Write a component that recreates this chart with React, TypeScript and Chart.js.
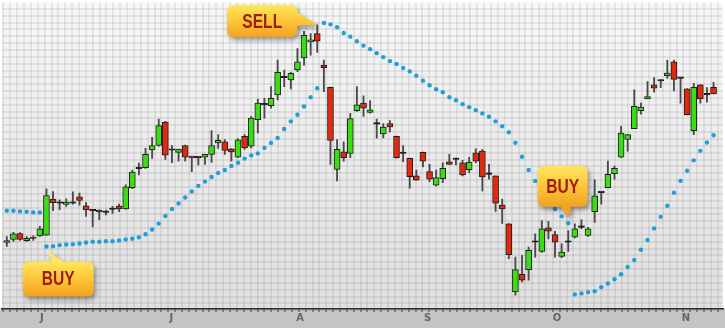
import React, { useEffect, useRef } from 'react';
import { Chart, registerables } from 'chart.js';

Chart.register(...registerables);

// ---- Data (price units, one entry per trading day) ----
const openP = [
  26.60, 26.90, 27.50, 26.77, 27.05, 27.27, 27.33, 30.97, 30.57, 30.43,
  30.57, 31.20, 30.30, 29.80, 29.87, 29.64, 29.94, 30.27, 29.97, 32.13,
  34.06, 34.13, 35.93, 36.37, 38.73, 35.91, 35.67, 36.37, 35.30, 35.14,
  35.20, 35.47, 36.63, 36.73, 36.03, 35.20, 37.30, 36.30, 38.97, 40.48,
  40.37, 41.47, 43.21, 42.97, 43.97, 45.20, 46.80, 47.63, 44.47, 42.23,
  33.97, 35.73, 35.57, 39.87, 40.63, 39.70, 38.54, 37.53, 38.57, 37.30,
  35.58, 35.07, 33.30, 35.67, 33.73, 32.37, 33.03, 34.73, 34.98, 34.63,
  33.93, 35.63, 35.80, 33.48, 33.30, 30.37, 28.47, 21.63, 23.40, 23.87,
  26.64, 25.70, 28.07, 27.40, 25.20, 26.64, 27.13, 28.14, 27.30, 29.70,
  31.64, 32.13, 33.53, 35.20, 36.97, 38.07, 39.87, 41.07, 42.47, 42.88,
  43.40, 44.80, 43.14, 42.07, 37.87, 42.47, 41.48, 42.23,
];
const highP = [
  27.20, 27.63, 27.60, 27.20, 27.27, 28.23, 32.00, 31.73, 30.90, 31.00,
  31.70, 31.57, 30.63, 29.85, 29.90, 29.87, 30.23, 30.47, 32.40, 33.90,
  34.60, 36.07, 37.20, 39.03, 38.80, 36.37, 36.00, 36.40, 35.30, 35.15,
  35.47, 37.87, 37.47, 36.97, 36.05, 37.07, 37.47, 39.30, 41.03, 41.13,
  42.30, 44.97, 43.97, 43.73, 46.13, 47.87, 47.63, 48.53, 44.97, 42.25,
  36.97, 36.73, 39.60, 42.30, 41.37, 40.90, 39.03, 38.57, 38.87, 37.32,
  36.37, 35.10, 33.90, 35.70, 34.47, 33.90, 34.63, 35.47, 35.13, 34.87,
  35.17, 36.03, 35.97, 34.47, 33.32, 30.97, 28.50, 25.13, 25.30, 26.13,
  27.47, 28.80, 28.73, 27.73, 26.47, 27.80, 28.47, 28.87, 28.13, 32.90,
  31.65, 34.80, 34.30, 38.30, 37.50, 41.97, 40.63, 42.80, 43.20, 42.97,
  44.97, 44.97, 43.15, 42.10, 42.63, 42.50, 42.20, 42.73,
];
const lowP = [
  26.20, 26.70, 26.80, 26.70, 26.80, 27.20, 27.30, 29.80, 29.90, 30.23,
  30.47, 30.37, 29.23, 28.20, 28.90, 29.37, 29.53, 29.70, 29.95, 32.03,
  33.40, 34.07, 35.07, 36.30, 34.97, 34.63, 34.80, 34.80, 33.73, 34.40,
  34.47, 34.67, 36.07, 35.47, 34.80, 35.13, 35.97, 36.13, 37.63, 39.13,
  40.13, 40.97, 42.30, 42.07, 43.80, 44.47, 45.47, 45.73, 41.80, 34.47,
  32.80, 34.80, 35.13, 39.80, 39.30, 39.63, 37.10, 37.13, 37.73, 35.10,
  34.73, 32.07, 32.85, 34.20, 32.73, 32.30, 32.63, 34.45, 34.40, 33.30,
  33.63, 34.63, 31.80, 32.97, 29.73, 28.53, 24.97, 21.30, 22.63, 22.80,
  25.13, 25.60, 26.97, 25.13, 25.07, 25.70, 27.07, 28.00, 27.20, 28.63,
  30.47, 32.10, 32.97, 35.13, 35.80, 38.05, 39.53, 41.05, 41.73, 42.20,
  43.13, 41.87, 40.63, 39.45, 37.47, 40.63, 40.73, 41.55,
];
const closeP = [
  26.80, 27.47, 26.90, 27.03, 27.00, 27.97, 31.33, 30.60, 30.55, 30.67,
  30.55, 30.83, 29.87, 29.78, 29.67, 29.62, 29.92, 29.97, 32.20, 33.70,
  34.04, 35.47, 36.37, 38.37, 35.40, 35.89, 36.00, 35.20, 35.13, 35.12,
  35.47, 36.37, 36.90, 35.87, 35.73, 36.93, 36.13, 39.13, 40.63, 40.46,
  41.13, 43.73, 43.19, 43.63, 44.80, 47.47, 47.00, 46.87, 44.20, 36.87,
  35.97, 35.13, 39.07, 40.47, 40.13, 39.97, 38.52, 38.23, 38.23, 35.13,
  35.56, 33.23, 32.87, 34.80, 32.97, 33.13, 34.07, 34.47, 34.96, 33.40,
  34.70, 34.80, 33.20, 33.46, 30.57, 29.97, 25.37, 23.87, 22.80, 25.80,
  26.62, 27.97, 27.73, 26.63, 25.63, 26.62, 27.97, 28.12, 27.97, 31.30,
  31.62, 33.47, 34.07, 37.63, 37.47, 40.30, 40.23, 41.30, 42.13, 42.86,
  43.67, 43.03, 43.12, 39.47, 42.23, 41.07, 41.46, 41.57,
];
// Parabolic SAR
const sarP = [
  29.80, 29.80, 29.73, 29.70, 29.63, 29.63, 26.20, 26.23, 26.33, 26.40,
  26.43, 26.50, 26.60, 26.67, 26.67, 26.73, 26.73, 26.80, 26.90, 26.97,
  27.13, 27.43, 27.90, 28.50, 29.27, 29.97, 30.53, 31.13, 31.73, 32.30,
  32.73, 33.20, 33.60, 33.90, 34.30, 34.63, 35.05, 35.37, 35.57, 36.13,
  36.63, 37.13, 38.03, 38.80, 39.47, 40.30, 41.23, 42.13, 48.70, 48.57,
  48.27, 47.70, 47.33, 46.87, 46.43, 46.07, 45.67, 45.27, 44.87, 44.57,
  44.17, 43.83, 43.40, 42.90, 42.43, 42.03, 41.73, 41.23, 40.93, 40.53,
  40.23, 39.93, 39.60, 39.27, 38.80, 38.30, 37.70, 36.65, 35.23, 33.90,
  32.80, 31.80, 30.90, 29.97, 29.23, 28.53, 21.37, 21.47, 21.60, 21.70,
  22.10, 22.47, 22.90, 23.40, 24.13, 24.83, 25.87, 26.85, 28.02, 29.18,
  30.30, 31.62, 32.80, 33.82, 34.87, 35.83, 36.67, 37.40,
];
const monthLabels = ['J', 'J', 'A', 'S', 'O', 'N'];
const monthTickIndex = [5.3, 24.9, 44.4, 63.7, 83.3, 102.8];

const signalLabels = ['BUY', 'SELL', 'BUY'];
const signalIndex = [6.3, 46.95, 85.07];
const signalPrice = [25.73, 48.53, 29.13];

// callout box geometry relative to the pointer tip (pixels)
const calloutShapes = [
  { bx: -25.7, by: 10.3, bw: 71, bh: 35, p1: [3.3, 12], p2: [16.3, 12] },
  { bx: -89.7, by: -19.7, bw: 70, bh: 32, p1: [-22, -13.7], p2: [-22, 1.3] },
  { bx: -31, by: -51.7, bw: 50, bh: 41, p1: [-10, -13], p2: [3, -13] },
];

const GREEN = '#3cdc14';
const RED = '#e4280e';
const DOJI = '#111111';

const isDoji = (i: number) => Math.abs(closeP[i] - openP[i]) < 0.04;

const bgPlugin = {
  id: 'bgPlugin',
  beforeDraw(chart: any) {
    const { ctx, chartArea: a, width, height } = chart;
    ctx.save();
    const g = ctx.createLinearGradient(0, a.top, 0, a.bottom);
    g.addColorStop(0, '#f7f7f7');
    g.addColorStop(1, '#e0e0e0');
    ctx.fillStyle = g;
    ctx.fillRect(a.left, a.top, a.right - a.left, a.bottom - a.top);
    ctx.fillStyle = '#c4c4c4';
    ctx.fillRect(0, a.bottom, width, height - a.bottom);
    ctx.restore();
  },
};

const calloutPlugin = {
  id: 'calloutPlugin',
  afterDraw(chart: any) {
    const { ctx } = chart;
    const xs = chart.scales.x;
    const ys = chart.scales.y;
    signalLabels.forEach((label, k) => {
      const tx = xs.getPixelForValue(signalIndex[k]);
      const ty = ys.getPixelForValue(signalPrice[k]);
      const s = calloutShapes[k];
      const left = tx + s.bx;
      const top = ty + s.by;
      let A = [tx + s.p1[0], ty + s.p1[1]];
      let C = [tx + s.p2[0], ty + s.p2[1]];
      const cross = (tx - A[0]) * (C[1] - A[1]) - (ty - A[1]) * (C[0] - A[0]);
      if (cross < 0) { const t = A; A = C; C = t; }
      ctx.save();
      ctx.beginPath();
      ctx.roundRect(left, top, s.bw, s.bh, 6);
      ctx.moveTo(A[0], A[1]);
      ctx.lineTo(tx, ty);
      ctx.lineTo(C[0], C[1]);
      ctx.closePath();
      const g = ctx.createLinearGradient(0, top, 0, top + s.bh);
      g.addColorStop(0, '#ffe65c');
      g.addColorStop(0.45, '#fdca3c');
      g.addColorStop(1, '#f3a21f');
      ctx.shadowColor = 'rgba(0,0,0,0.4)';
      ctx.shadowBlur = 5;
      ctx.shadowOffsetX = 2;
      ctx.shadowOffsetY = 3;
      ctx.fillStyle = g;
      ctx.fill('nonzero');
      ctx.shadowColor = 'transparent';
      ctx.translate(left + s.bw / 2, top + s.bh / 2 + 1);
      ctx.scale(0.78, 1);
      ctx.font = 'bold 20px "Liberation Sans", Arial, sans-serif';
      ctx.textAlign = 'center';
      ctx.textBaseline = 'middle';
      ctx.fillStyle = '#a01e08';
      ctx.fillText(label, 0, 0);
      ctx.restore();
    });
  },
};

export default function App() {
  const canvasRef = useRef<HTMLCanvasElement | null>(null);

  useEffect(() => {
    document.body.style.margin = '0';
    const canvas = canvasRef.current;
    if (!canvas) return;

    const chart = new Chart(canvas, {
      type: 'bar',
      data: {
        datasets: [
          {
            type: 'line',
            label: 'SAR',
            data: sarP.map((v, i) => ({ x: i, y: v })),
            showLine: false,
            pointRadius: 2.2,
            pointHoverRadius: 2.2,
            pointBackgroundColor: '#1e9fdc',
            pointBorderWidth: 0,
            order: 0,
            xAxisID: 'x',
            yAxisID: 'y',
          } as any,
          {
            type: 'bar',
            label: 'Body',
            data: openP.map((o, i) => ({ x: i, y: [o, closeP[i]] })),
            barThickness: 6,
            grouped: false,
            minBarLength: 1.5,
            backgroundColor: (c: any) => {
              const i = c.dataIndex;
              if (isDoji(i)) return DOJI;
              return closeP[i] > openP[i] ? GREEN : RED;
            },
            borderColor: (c: any) => (isDoji(c.dataIndex) ? DOJI : '#1e1e1e'),
            borderWidth: 1,
            borderSkipped: false,
            order: 1,
            xAxisID: 'x',
            yAxisID: 'y',
          } as any,
          {
            type: 'bar',
            label: 'Wick',
            data: lowP.map((l, i) => ({ x: i, y: [l, highP[i]] })),
            barThickness: 1.2,
            grouped: false,
            backgroundColor: '#4a4a4a',
            borderWidth: 0,
            order: 2,
            xAxisID: 'x',
            yAxisID: 'y',
          } as any,
        ],
      },
      options: {
        animation: false,
        responsive: false,
        devicePixelRatio: 1,
        events: [],
        layout: { padding: { left: 0, right: 0, top: 0, bottom: 4 } },
        plugins: { legend: { display: false }, tooltip: { enabled: false } },
        scales: {
          x: {
            type: 'linear',
            position: 'bottom',
            offset: false,
            min: -0.7,
            max: 108.4,
            weight: 1,
            afterBuildTicks: (s: any) => {
              s.ticks = monthTickIndex.map((v) => ({ value: v }));
            },
            ticks: {
              autoSkip: false,
              maxRotation: 0,
              padding: 0,
              color: '#646464',
              font: { size: 10, weight: 'bold', family: '"DejaVu Sans", sans-serif' },
              callback: (_v: any, i: number) => monthLabels[i] ?? '',
            },
            grid: { display: false, drawTicks: false },
            border: { display: false },
          },
          g: {
            type: 'linear',
            position: 'bottom',
            offset: false,
            min: -0.68,
            max: 104.24,
            weight: 0,
            afterBuildTicks: (s: any) => {
              const t = [];
              for (let k = 0; k <= 104; k++) t.push({ value: k });
              s.ticks = t;
            },
            ticks: { display: false },
            grid: {
              color: 'rgba(0,0,0,0.065)',
              lineWidth: 2,
              drawTicks: true,
              tickLength: 3,
              tickColor: '#3c3c3c',
              tickWidth: 1,
            },
            border: { display: true, color: '#2a2a2a', width: 1.5 },
          },
          y: {
            type: 'linear',
            position: 'left',
            min: 19.9,
            max: 50.8,
            afterBuildTicks: (s: any) => {
              const t = [];
              for (let k = 0; k < 45; k++) t.push({ value: 50.8 - (0.67 + 0.69 * k) });
              s.ticks = t;
            },
            ticks: { display: false },
            grid: { color: 'rgba(0,0,0,0.065)', lineWidth: 2, drawTicks: false },
            border: { display: false },
          },
        } as any,
      },
      plugins: [bgPlugin, calloutPlugin],
    } as any);

    return () => chart.destroy();
  }, []);

  return (
    <div style={{ width: 725, height: 328 }}>
      <canvas ref={canvasRef} width={725} height={328} style={{ display: 'block' }} />
    </div>
  );
}
